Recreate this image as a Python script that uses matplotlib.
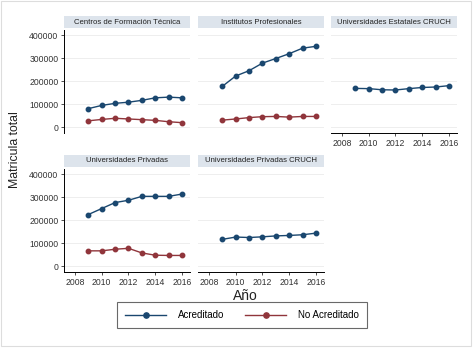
import matplotlib
matplotlib.use("Agg")
import matplotlib.pyplot as plt
from matplotlib.patches import Rectangle

plt.rcParams['font.family'] = ['Liberation Sans', 'DejaVu Sans']

years = [2009, 2010, 2011, 2012, 2013, 2014, 2015, 2016]

panels = ['Centros de Formación Técnica', 'Institutos Profesionales',
          'Universidades Estatales CRUCH', 'Universidades Privadas',
          'Universidades Privadas CRUCH']

acred_cft = [80000, 94000, 103000, 108000, 116000, 127000, 130000, 127000]
acred_ip = [177000, 222000, 245000, 278000, 298000, 319000, 343000, 351000]
acred_uec = [168000, 167000, 162000, 161000, 167000, 172000, 174000, 180000]
acred_up = [224000, 250000, 276000, 286000, 303000, 303000, 303000, 313000]
acred_upc = [116000, 126000, 124000, 127000, 131000, 133000, 136000, 143000]

noacred_cft = [27000, 33000, 38000, 35000, 32000, 29000, 23000, 19000]
noacred_ip = [30000, 35000, 41000, 45000, 46000, 43000, 46000, 46000]
noacred_up = [66000, 66000, 73000, 77000, 57000, 47000, 46000, 46000]

acred = [acred_cft, acred_ip, acred_uec, acred_up, acred_upc]
noacred = [noacred_cft, noacred_ip, None, noacred_up, None]

navy = '#1a476f'
maroon = '#90353b'
strip_col = '#dde4ec'

W, H = 474, 348
fig = plt.figure(figsize=(W / 100, H / 100), dpi=100)
fig.patches.append(Rectangle((0.002, 0.006), 0.992, 0.99, transform=fig.transFigure,
                             fill=False, edgecolor='#dddddd', linewidth=0.8))

lefts = [64, 198, 331]
tops = [30, 169]
aw, ah = 126, 103

def px(x, y, w, h):
    return [x / W, 1 - (y + h) / H, w / W, h / H]

for i, name in enumerate(panels):
    r, c = divmod(i, 3)
    ax = fig.add_axes(px(lefts[c], tops[r], aw, ah))
    ax.set_xlim(2007.18, 2016.6)
    ax.set_ylim(-26000, 422000)
    ax.set_yticks([0, 100000, 200000, 300000, 400000])
    ax.set_xticks([2008, 2010, 2012, 2014, 2016])
    ax.grid(axis='y', color='#eeeeee', linewidth=0.7)
    ax.set_axisbelow(True)
    for s in ['top', 'right']:
        ax.spines[s].set_visible(False)
    ax.plot(years, acred[i], color=navy, marker='o', markersize=3.2, linewidth=1)
    if noacred[i] is not None:
        ax.plot(years, noacred[i], color=maroon, marker='o', markersize=3.2, linewidth=1)
    if c == 0:
        ax.tick_params(axis='y', labelsize=6.2, length=2.5, width=0.6, pad=1.5, colors='#333333')
        ax.spines['left'].set_linewidth(0.7)
    else:
        ax.spines['left'].set_visible(False)
        ax.tick_params(axis='y', left=False, labelleft=False)
    if i in (2, 3, 4):
        ax.tick_params(axis='x', labelsize=6.2, length=2.5, width=0.6, pad=2, colors='#333333')
        ax.spines['bottom'].set_linewidth(0.7)
    else:
        ax.spines['bottom'].set_visible(False)
        ax.tick_params(axis='x', bottom=False, labelbottom=False)
    # strip title
    sy = tops[r] - 14
    sax = fig.add_axes(px(lefts[c], sy, aw, 12))
    sax.set_facecolor(strip_col)
    sax.set_xticks([])
    sax.set_yticks([])
    for s in sax.spines.values():
        s.set_visible(False)
    sax.text(0.5, 0.5, name, ha='center', va='center', fontsize=5.6, color='#222222',
             transform=sax.transAxes)

fig.text(15 / W, 1 - 150 / H, 'Matricula total', rotation=90, ha='center', va='center',
         fontsize=8.8, color='#222222')
fig.text(245 / W, 1 - 296 / H, 'Año', ha='center', va='center', fontsize=10, color='#222222')

h1, = plt.plot([], [], color=navy, marker='o', markersize=3.8, linewidth=1)
h2, = plt.plot([], [], color=maroon, marker='o', markersize=3.8, linewidth=1)
leg = fig.legend([h1, h2], ['Acreditado', 'No Acreditado'], ncol=2,
                 loc='center', bbox_to_anchor=(242 / W, 1 - 315 / H),
                 fontsize=7, handlelength=4.2, columnspacing=2.2, handletextpad=1.2,
                 fancybox=False, edgecolor='#444444', borderpad=0.8)
leg.get_frame().set_linewidth(0.8)

fig.savefig('out.png', dpi=100)
